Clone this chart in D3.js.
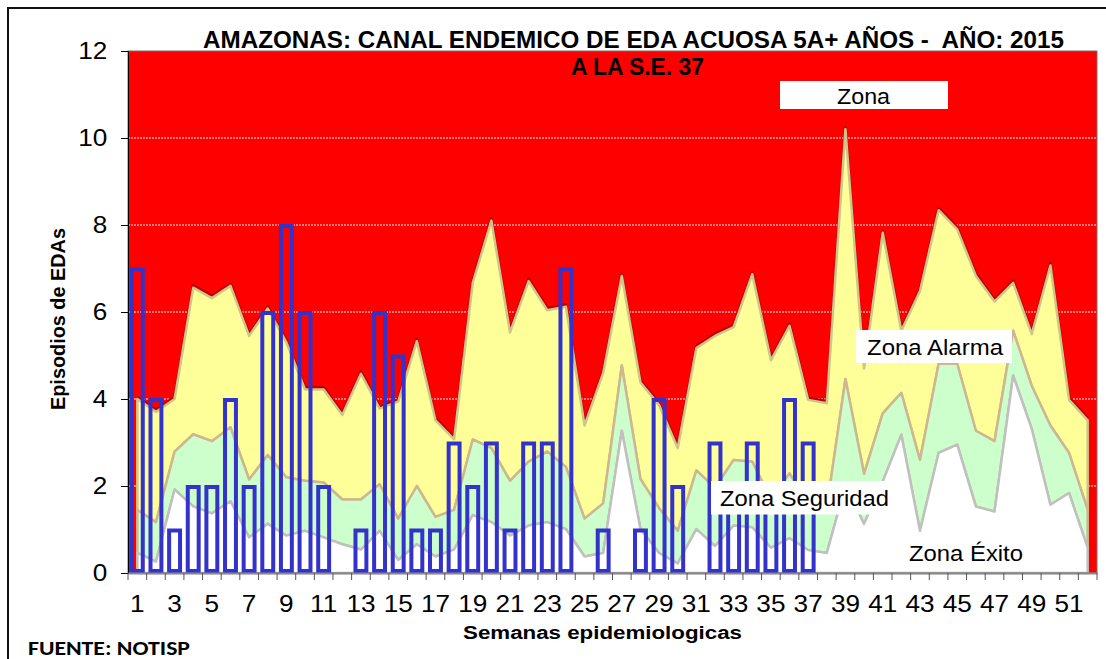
<!DOCTYPE html>
<html lang="es">
<head>
<meta charset="utf-8">
<title>Canal endemico EDA acuosa 5A+ - Amazonas 2015</title>
<script src="https://cdn.jsdelivr.net/npm/d3@7/dist/d3.min.js"></script>
<style>
  body { margin: 0; background: #fff; }
  svg { display: block; font-family: Arial, "Liberation Sans", sans-serif; }
</style>
</head>
<body>
<svg id="chart" width="1106" height="659"></svg>
<script>
// semanas epidemiologicas
var semanas = [1,2,3,4,5,6,7,8,9,10,11,12,13,14,15,16,17,18,19,20,21,22,23,24,25,26,
               27,28,29,30,31,32,33,34,35,36,37,38,39,40,41,42,43,44,45,46,47,48,49,50,51,52];
var semanasEtiqueta = [1,3,5,7,9,11,13,15,17,19,21,23,25,27,29,31,33,35,37,39,41,43,45,47,49,51];
var yTicks = [0,2,4,6,8,10,12];

// limites del canal
var exito = [0.46,0.26,1.92,1.53,1.37,1.65,0.82,1.13,0.86,0.97,0.82,0.66,0.54,0.97,0.3,0.66,
             0.38,0.54,1.33,1.17,0.86,1.09,1.17,1.01,0.38,0.46,3.27,1.01,0.46,0.22,1.01,0.62,
             1.09,1.05,0.58,0.8,0.53,0.46,2.0,1.13,2.1,3.18,0.97,2.76,2.95,1.53,1.41,4.54,
             3.31,1.57,1.84,0.58];
var seguridad = [1.45,1.17,2.79,3.19,3.03,3.35,2.15,2.71,2.2,2.12,2.08,1.69,1.69,2.04,1.25,2.0,
                 1.29,1.45,3.07,2.87,2.12,2.56,2.79,2.44,1.25,1.6,4.77,2.16,1.49,0.97,2.36,1.96,
                 2.6,2.56,1.7,2.29,1.6,1.5,4.46,2.28,3.67,4.14,2.6,4.81,4.81,3.27,3.03,5.57,
                 4.3,3.39,2.76,1.45];
var alarma = [4.0,3.7,4.0,6.56,6.32,6.6,5.45,6.08,5.3,4.22,4.22,3.63,4.58,3.78,3.94,5.33,
              3.51,3.07,6.67,8.1,5.53,6.71,6.04,6.12,3.39,4.6,6.83,4.38,3.86,2.87,5.17,5.45,
              5.65,6.87,4.89,5.68,3.98,3.9,10.2,4.7,7.82,5.57,6.48,8.34,7.9,6.83,6.24,6.67,
              5.49,7.07,3.98,3.51];

// casos 2015 hasta la S.E. 37
var casos = [7,4,1,2,2,4,2,6,8,6,2,0,1,6,5,1,1,3,2,3,1,3,3,7,0,1,0,1,4,2,0,3,2,3,2,4,3];

var svg = d3.select("#chart");

var x = d3.scaleBand().domain(semanas).range([128, 1097]);
var y = d3.scaleLinear().domain([0, 12]).range([573, 51]);
var cx = function(s) { return x(s) + x.bandwidth() / 2; };

var filas = semanas.map(function(s, i) {
  return {sem: s, q1: exito[i], med: seguridad[i], q3: alarma[i]};
});

// marco exterior
svg.append("path")
  .attr("d", "M8,662V8H1110")
  .attr("fill", "none")
  .attr("stroke", "#111")
  .attr("stroke-width", 2);

// fondo rojo = zona de epidemia
svg.append("rect")
  .attr("x", 128).attr("y", 51)
  .attr("width", 1097 - 128).attr("height", 573 - 51)
  .attr("fill", "#ff0000");

svg.append("g").selectAll("line")
  .data(yTicks.filter(function(t) { return t > 0 && t < 12; }))
  .enter().append("line")
  .attr("x1", 128).attr("x2", 1097)
  .attr("y1", function(d) { return y(d); })
  .attr("y2", function(d) { return y(d); })
  .attr("stroke", "#f4f4f4")
  .attr("stroke-width", 1)
  .attr("stroke-dasharray", "2,1");

// zonas apiladas
var zonaAlarma = d3.area().x(function(d) { return cx(d.sem); })
  .y0(function(d) { return y(d.med); }).y1(function(d) { return y(d.q3); });
var zonaSeguridad = d3.area().x(function(d) { return cx(d.sem); })
  .y0(function(d) { return y(d.q1); }).y1(function(d) { return y(d.med); });
var zonaExito = d3.area().x(function(d) { return cx(d.sem); })
  .y0(function() { return y(0); }).y1(function(d) { return y(d.q1); });
var lineaQ3 = d3.line().x(function(d) { return cx(d.sem); }).y(function(d) { return y(d.q3); });

svg.append("path").datum(filas)
  .attr("d", lineaQ3)
  .attr("fill", "none")
  .attr("stroke", "#c00000")
  .attr("stroke-width", 3)
  .attr("stroke-linejoin", "round")
  .attr("transform", "translate(0,-2)");

svg.append("path").datum(filas)
  .attr("d", zonaAlarma)
  .attr("fill", "#ffff99")
  .attr("stroke", "#cfc489")
  .attr("stroke-width", 2.5)
  .attr("stroke-linejoin", "round");

svg.append("path").datum(filas)
  .attr("d", zonaSeguridad)
  .attr("fill", "#ccffcc")
  .attr("stroke", "#cdb690")
  .attr("stroke-width", 2.5)
  .attr("stroke-linejoin", "round");

svg.append("path").datum(filas)
  .attr("d", zonaExito)
  .attr("fill", "#ffffff")
  .attr("stroke", "#c0c0c0")
  .attr("stroke-width", 2.5)
  .attr("stroke-linejoin", "round");

// borde del area de trazado
svg.append("rect")
  .attr("x", 128).attr("y", 51)
  .attr("width", 1097 - 128).attr("height", 573 - 51)
  .attr("fill", "none")
  .attr("stroke", "#707070")
  .attr("stroke-width", 1);

// barras de casos (sin relleno)
var sw = 4, anchoBarra = x.bandwidth() * 0.8;
svg.append("g").selectAll("rect")
  .data(casos.map(function(c, i) { return {sem: semanas[i], v: c}; })
    .filter(function(d) { return d.v > 0; }))
  .enter().append("rect")
  .attr("x", function(d) { return cx(d.sem) - anchoBarra / 2 + sw / 2; })
  .attr("y", function(d) { return y(d.v) + 1; })
  .attr("width", anchoBarra - sw)
  .attr("height", function(d) { return y(0) - sw / 2 - y(d.v) - 1; })
  .attr("fill", "none")
  .attr("stroke", "#3333cc")
  .attr("stroke-width", sw);

// ejes
var ejeY = svg.append("g")
  .attr("transform", "translate(128,0)")
  .call(d3.axisLeft(y).tickValues(yTicks).tickSize(7).tickPadding(12));
ejeY.select(".domain").attr("stroke", "#000");
ejeY.selectAll(".tick line").attr("stroke", "#000");
ejeY.selectAll("text")
  .attr("font-size", 24).attr("font-family", "Arial, 'Liberation Sans', sans-serif")
  .attr("fill", "#000")
  .attr("transform", "scale(1.09,1)");

var ejeX = svg.append("g")
  .attr("transform", "translate(0,573)")
  .call(d3.axisBottom(x).tickValues(semanasEtiqueta).tickSize(0).tickPadding(22));
ejeX.select(".domain").attr("stroke", "#8a8a8a").attr("stroke-width", 2);
ejeX.selectAll("text")
  .attr("font-size", 24).attr("font-family", "Arial, 'Liberation Sans', sans-serif")
  .attr("fill", "#000")
  .attr("transform", "scale(1.09,1)");

// marcas entre categorias
svg.append("g").selectAll("line")
  .data(semanas.map(function(s) { return x(s); }).concat([x.range()[1]]))
  .enter().append("line")
  .attr("x1", function(d) { return d; }).attr("x2", function(d) { return d; })
  .attr("y1", 573).attr("y2", 580)
  .attr("stroke", "#555")
  .attr("stroke-width", 1);

// etiquetas de zonas
function etiqueta(txt, tx, ty, largo, caja) {
  if (caja) {
    svg.append("rect")
      .attr("x", caja[0]).attr("y", caja[1])
      .attr("width", caja[2]).attr("height", caja[3])
      .attr("fill", "#fff");
  }
  svg.append("text")
    .attr("x", tx).attr("y", ty)
    .attr("font-size", 22)
    .attr("textLength", largo)
    .attr("lengthAdjust", "spacingAndGlyphs")
    .text(txt);
}
etiqueta("Zona", 837, 104, 53, [780, 81, 168, 28]);
etiqueta("Zona Alarma", 867, 355, 136, [856, 330, 156, 33]);
etiqueta("Zona Seguridad", 720, 506, 169, [711, 481, 179, 33.5]);
etiqueta("Zona Éxito", 909, 561, 114, null);

// titulos
svg.append("text")
  .attr("x", 203).attr("y", 48)
  .attr("font-size", 23).attr("font-weight", "bold")
  .attr("textLength", 861).attr("lengthAdjust", "spacingAndGlyphs")
  .style("white-space", "pre")
  .text("AMAZONAS: CANAL ENDEMICO DE EDA ACUOSA 5A+ AÑOS -  AÑO: 2015");

svg.append("text")
  .attr("x", 571).attr("y", 75)
  .attr("font-size", 23).attr("font-weight", "bold")
  .attr("textLength", 133).attr("lengthAdjust", "spacingAndGlyphs")
  .text("A LA S.E. 37");

svg.append("text")
  .attr("transform", "rotate(-90)")
  .attr("x", -319).attr("y", 65)
  .attr("text-anchor", "middle")
  .attr("font-size", 21).attr("font-weight", "bold")
  .attr("textLength", 182).attr("lengthAdjust", "spacingAndGlyphs")
  .text("Episodios de EDAs");

svg.append("text")
  .attr("x", 463).attr("y", 639)
  .attr("font-size", 18).attr("font-weight", "bold")
  .attr("textLength", 279).attr("lengthAdjust", "spacingAndGlyphs")
  .text("Semanas epidemiologicas");

svg.append("text")
  .attr("x", 28).attr("y", 655)
  .attr("font-family", "Carlito, Lato, 'Open Sans', sans-serif")
  .attr("font-size", 20).attr("font-weight", "bold")
  .attr("textLength", 162).attr("lengthAdjust", "spacingAndGlyphs")
  .text("FUENTE: NOTISP");
</script>
</body>
</html>
